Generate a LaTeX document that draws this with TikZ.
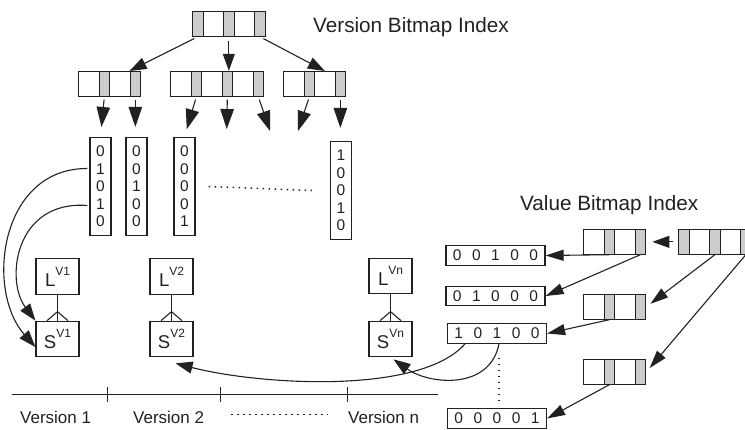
\documentclass[tikz,border=0pt]{standalone}
\usepackage{fontspec}
\setmainfont{Liberation Sans}
\usetikzlibrary{arrows.meta,calc,fit}
\definecolor{ink}{gray}{0.13}
\definecolor{cellgray}{gray}{0.8}

% gap between the bits of a horizontal bitmap
\newcommand\gp{\hspace{10.5pt}}
% entity label with raised version tag
\newcommand\ent[2]{#1\raisebox{11pt}{\fontsize{12}{12}\selectfont #2}}

\tikzset{
  cellbox/.style={draw=ink, line width=1.2pt, inner sep=0, minimum height=24.5pt, anchor=north west},
  colbox/.style={draw=ink, line width=1.2pt, inner sep=0, minimum width=21pt, minimum height=98pt,
    align=center, font=\fontsize{15.5}{17.5}\selectfont, text=ink},
  rowbox/.style={draw=ink, line width=1.2pt, inner sep=0, minimum width=99pt, minimum height=19.5pt,
    font=\fontsize{15.5}{15.5}\selectfont, text=ink},
  entbox/.style={draw=ink, line width=1.2pt, inner sep=0, minimum width=43pt, minimum height=35.5pt,
    font=\fontsize{18.5}{18.5}\selectfont, text=ink},
  heading/.style={anchor=base west, inner sep=0, font=\fontsize{20.7}{20.7}\selectfont, text=ink},
  vlabel/.style={anchor=base west, inner sep=0, font=\fontsize{17}{17}\selectfont, text=ink},
  link/.style={draw=ink, line width=1.1pt},
  arr/.style={link, -{Triangle[length=17pt,width=12pt]}},
  arrlong/.style={link, -{Triangle[length=20pt,width=13.5pt]}},
  arrval/.style={link, -{Triangle[length=18pt,width=11pt]}},
  dotline/.style={draw=ink, line width=1.5pt, dash pattern=on 1.5pt off 4.5pt},
}

% a row of bitmap cells: name, left x, top y, cells (g = shaded narrow, w = wide)
\newcommand\bitrow[4]{%
  \xdef\brx{#2}%
  \foreach \cl [count=\ci] in {#4}{%
    \if g\cl \def\cw{10.5}\def\cf{cellgray}\else \def\cw{20.5}\def\cf{white}\fi
    \node[cellbox, fill=\cf, minimum width=\cw pt] (#1-\ci) at (\brx,#3) {};
    \pgfmathsetmacro\nbrx{\brx+\cw}%
    \xdef\brx{\nbrx}%
    \xdef\brn{\ci}%
  }%
  \node[inner sep=0, fit=(#1-1)(#1-\brn)] (#1) {};
}

\begin{document}
\begin{tikzpicture}[x=1pt,y=-1pt]
\useasboundingbox (0,0) rectangle (745,429);
\clip (0,0) rectangle (745,429);

% ---------- version bitmap index ----------
\node[heading] (vtitle) at (313,32) {Version Bitmap Index};
\bitrow{vroot}{192}{11}{g,w,g,w,g}
\bitrow{va}{78}{71}{w,g,w,g}
\bitrow{vb}{170}{71}{w,g,w,g,w,g}
\bitrow{vc}{283}{71}{w,g,w,g}

\draw[arr, shorten <=4pt] (vroot-1.south) -- (va-4.north west);
\draw[arr, shorten <=4pt] (vroot-3.south) -- (vroot-3.south |- vb.north);
\draw[arr, shorten <=4pt] (vroot-5.south) -- (vc-3.north);

% version bit vectors
\node[colbox] (c1) at (100.5,186.5) {0\\1\\0\\1\\0};
\node[colbox] (c2) at (136.5,186.5) {0\\0\\1\\0\\0};
\node[colbox] (c3) at (184.5,186.5) {0\\0\\0\\0\\1};
\node[colbox] (c4) at (341,190.5) {1\\0\\0\\1\\0};
\draw[dotline] ($(c3.east)+(13,0)$) -- ($(c4.west)+(-18,0)$);

\coordinate (x4) at (226.75,129);
\coordinate (x5) at (270,131);
\coordinate (x6) at (298,131);
\draw[arrlong, shorten <=3pt, shorten >=10pt] (va-2.south) -- (c1.north);
\draw[arrlong, shorten <=3pt, shorten >=10pt] (va-4.south) -- (va-4.south |- c2.north);
\draw[arrlong, shorten <=3pt, shorten >=8pt] (vb-2.south) -- (c3.north);
\draw[arrlong, shorten <=3pt] (vb-4.south) -- (x4);
\draw[arrlong, shorten <=3pt] (vb-6.south) -- (x5);
\draw[arrlong, shorten <=3pt] (vc-2.south) -- (x6);
\draw[arrlong, shorten <=3pt, shorten >=13pt] (vc-4.south) -- (vc-4.south |- c4.north);

% ---------- version entities ----------
\node[entbox] (l1) at (57.5,276.5) {\ent{L}{V1}};
\node[entbox] (s1) at (57.5,339) {\ent{S}{V1}};
\node[entbox] (l2) at (171.5,276.5) {\ent{L}{V2}};
\node[entbox] (s2) at (171.5,339) {\ent{S}{V2}};
\node[entbox] (ln) at (390.5,276) {\ent{L}{Vn}};
\node[entbox] (sn) at (390.5,339) {\ent{S}{Vn}};
\foreach \e in {1,2,n}{
  \draw[link] (l\e.south) -- (s\e.north);
  \draw[link] ($(s\e.north)+(-10.5,0)$) -- ($(s\e.north)+(0,-9)$) -- ($(s\e.north)+(10.5,0)$);
}

% set bits of version 1 pointing to its entity
\draw[arr] ($(c1.west)+(-2,-18)$) .. controls (0,168) and (-15,290) .. ($(s1.west)+(0,8)$);
\draw[arr] ($(c1.west)+(-2,19)$) .. controls (15,200) and (5,280) .. (s1.north west);

% ---------- timeline ----------
\coordinate (t0) at (12,394.5);
\coordinate (t1) at (438,394.5);
\draw[link] (t0) -- (t1);
\foreach \x [count=\k] in {107.5,220.5,347.5}{
  \coordinate (tk\k) at (\x,394.5);
  \draw[link] ($(tk\k)+(0,-8)$) -- ($(tk\k)+(0,7)$);
}
\node[vlabel] (ver1) at (20,423) {Version 1};
\node[vlabel] (ver2) at (133,423) {Version 2};
\node[vlabel] (vern) at (348,423) {Version n};
\draw[dotline] ($(ver2.east)+(27,-2.5)$) -- ($(vern.west)+(-20,-2.5)$);

% ---------- value bitmap index ----------
\node[heading] (ltitle) at (520,210) {Value Bitmap Index};
\bitrow{wr}{678}{229}{g,w,g,w,g}
\bitrow{wa}{583}{229}{w,g,w,g}
\bitrow{wb}{583}{294}{w,g,w,g}
\bitrow{wc}{583}{359}{w,g,w,g}

\node[rowbox] (b1) at (495.5,255.5) {0\gp 0\gp 1\gp 0\gp 0};
\node[rowbox] (b2) at (495.5,296) {0\gp 1\gp 0\gp 0\gp 0};
\node[rowbox] (b3) at (497,333.5) {1\gp 0\gp 1\gp 0\gp 0};
\node[rowbox] (b5) at (497,418.5) {0\gp 0\gp 0\gp 0\gp 1};

\draw[arr, shorten <=5pt, shorten >=6pt] (wr.west) -- (wa.east);
\draw[arrval] (wa-2.south) -- (b1.east);
\draw[arrval] (wa-4.south) -- (b2.east);
\draw[arrval, shorten >=5pt] (wr-3.south) -- (wb.east);
\draw[arrval, shorten >=5pt] (wr-5.south) -- (wc.east);
\draw[arrval] (wb-2.south) -- (b3.east);
\draw[arrval] (wc-2.south) -- (b5.east);
\draw[dotline] ($(b3.south)+(2,14)$) -- ($(b5.north)+(2,-7)$);

% set bits of one value pointing to entities
\draw[arr] ($(b3.south)+(-32,0)$) .. controls (420,395) and (260,385) .. ($(s2.south east)+(-18,6)$);
\draw[arr] ($(b3.south)+(2,0)$) .. controls (490,390) and (430,385) .. ($(sn.south)+(3,2)$);
\end{tikzpicture}
\end{document}
